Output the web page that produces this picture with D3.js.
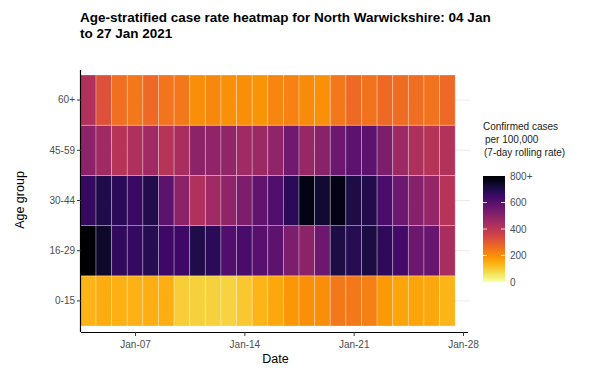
<!DOCTYPE html>
<html><head><meta charset="utf-8">
<script src="https://cdn.jsdelivr.net/npm/d3@7"></script>
<style>body{margin:0;background:#fff}svg{display:block;font-family:"Liberation Sans",Arial,sans-serif}</style>
</head><body><svg id="c" width="589" height="372"></svg>
<script>
const dates = ["2021-01-04","2021-01-05","2021-01-06","2021-01-07","2021-01-08","2021-01-09","2021-01-10","2021-01-11","2021-01-12","2021-01-13","2021-01-14","2021-01-15","2021-01-16","2021-01-17","2021-01-18","2021-01-19","2021-01-20","2021-01-21","2021-01-22","2021-01-23","2021-01-24","2021-01-25","2021-01-26","2021-01-27"];
const ageGroups = ["0-15","16-29","30-44","45-59","60+"];
const rate_0_15  = [135,150,142,140,145,145,95,90,90,85,105,135,155,185,195,200,240,240,225,180,160,160,155,135];
const rate_16_29 = [850,740,670,660,690,650,645,700,680,610,625,600,585,525,495,555,705,688,712,675,635,558,568,440];
const rate_30_44 = [665,700,680,655,695,585,495,425,455,490,525,580,610,680,770,730,770,705,695,620,558,505,480,410];
const rate_45_59 = [495,455,410,430,455,410,440,495,490,485,455,465,490,550,470,500,555,590,590,525,462,430,410,420];
const rate_60p   = [425,320,255,240,268,245,240,200,212,195,200,190,215,220,205,195,240,265,248,265,260,258,250,268];
const rateSeries = {"0-15":rate_0_15,"16-29":rate_16_29,"30-44":rate_30_44,"45-59":rate_45_59,"60+":rate_60p};
const xTicks = ["2021-01-07","2021-01-14","2021-01-21","2021-01-28"];
const legendTicks = [0,200,400,600,800];
const legendLabels = ["0","200","400","600","800+"];

const parse = d3.utcParse("%Y-%m-%d");
const DAY = 864e5;
const svg = d3.select("#c");

const x = d3.scaleUtc()
  .domain([new Date(+parse("2021-01-04") - DAY/2), new Date(+parse("2021-01-28") + DAY/2)])
  .range([80.4, 470.8]);
const y = d3.scaleBand().domain(ageGroups.slice().reverse()).range([75, 326]).padding(0);
const color = d3.scaleSequential(t => d3.interpolateInferno(1 - t)).domain([0, 800]).clamp(true);

// gridlines
const g = svg.append("g");
g.selectAll("line.grid").data(ageGroups).join("line")
  .attr("x1", 81).attr("x2", 470)
  .attr("y1", d => y(d) + y.bandwidth()/2).attr("y2", d => y(d) + y.bandwidth()/2)
  .attr("stroke", "#ebebe0").attr("stroke-width", 1);

// tiles
const cells = [];
ageGroups.forEach(a => rateSeries[a].forEach((v, i) => cells.push({a, d: parse(dates[i]), v})));
g.selectAll("rect.tile").data(cells).join("rect")
  .attr("x", d => x(new Date(+d.d - DAY/2)))
  .attr("width", d => x(new Date(+d.d + DAY/2)) - x(new Date(+d.d - DAY/2)))
  .attr("y", d => y(d.a)).attr("height", y.bandwidth())
  .attr("fill", d => color(d.v))
  .attr("stroke", "rgba(255,255,255,0.35)").attr("stroke-width", 0.8);

// axes
const xAxis = d3.axisBottom(x).tickValues(xTicks.map(parse)).tickFormat(d3.utcFormat("%b-%d")).tickSize(4).tickSizeOuter(0);
const xg = svg.append("g").attr("transform", "translate(0,332)").call(xAxis);
xg.select(".domain").attr("d", "M81,0.5H468").attr("stroke", "#000").attr("stroke-width", 1.2);
xg.selectAll(".tick line").attr("stroke", "#333");
xg.selectAll(".tick text").attr("fill", "#4d4d4d").attr("font-size", 10).attr("dy", "0.9em");

const yAxis = d3.axisLeft(y).tickSize(4).tickSizeOuter(0);
const yg = svg.append("g").attr("transform", "translate(81,0)").call(yAxis);
yg.select(".domain").attr("d", "M-0.5,70V332").attr("stroke", "#000").attr("stroke-width", 1.2);
yg.selectAll(".tick line").attr("stroke", "#333");
yg.selectAll(".tick text").attr("fill", "#4d4d4d").attr("font-size", 10).attr("x", -6);
svg.selectAll(".domain").attr("fill", "none");

// titles
svg.append("text").attr("x", 80).attr("y", 22).attr("font-size", 13.5).attr("font-weight", "bold")
  .text("Age-stratified case rate heatmap for North Warwickshire: 04 Jan");
svg.append("text").attr("x", 80).attr("y", 38).attr("font-size", 13.5).attr("font-weight", "bold")
  .text("to 27 Jan 2021");
svg.append("text").attr("x", 275.5).attr("y", 363).attr("text-anchor", "middle").attr("font-size", 12.5).text("Date");
svg.append("text").attr("transform", "translate(24,200) rotate(-90)").attr("text-anchor", "middle").attr("font-size", 12.5).text("Age group");

// legend
const lt = svg.append("g").attr("font-size", 10).attr("fill", "#1a1a1a");
lt.append("text").attr("x", 483).attr("y", 130).text("Confirmed cases");
lt.append("text").attr("x", 485).attr("y", 143).text("per 100,000");
lt.append("text").attr("x", 484).attr("y", 156).text("(7-day rolling rate)");

const ly = d3.scaleLinear().domain([0, 800]).range([282, 176]);
const defs = svg.append("defs");
const grad = defs.append("linearGradient").attr("id", "lg").attr("x1", 0).attr("y1", 1).attr("x2", 0).attr("y2", 0);
d3.range(0, 1.0001, 0.05).forEach(t => grad.append("stop").attr("offset", t).attr("stop-color", color(t * 800)));
svg.append("rect").attr("x", 483).attr("y", ly(800)).attr("width", 22).attr("height", ly(0) - ly(800)).attr("fill", "url(#lg)");
const lg = svg.append("g");
lg.selectAll("line.l").data(legendTicks.slice(1, 4)).join("line")
  .attr("x1", 483).attr("x2", 487).attr("y1", d => ly(d)).attr("y2", d => ly(d)).attr("stroke", "#fff").attr("stroke-width", 0.8);
lg.selectAll("line.r").data(legendTicks.slice(1, 4)).join("line")
  .attr("x1", 501).attr("x2", 505).attr("y1", d => ly(d)).attr("y2", d => ly(d)).attr("stroke", "#fff").attr("stroke-width", 0.8);
lg.selectAll("text").data(legendTicks).join("text")
  .attr("x", 510).attr("y", d => ly(d)).attr("dy", "0.35em").attr("font-size", 10).attr("fill", "#4d4d4d")
  .text((d, i) => legendLabels[i]);
</script></body></html>
